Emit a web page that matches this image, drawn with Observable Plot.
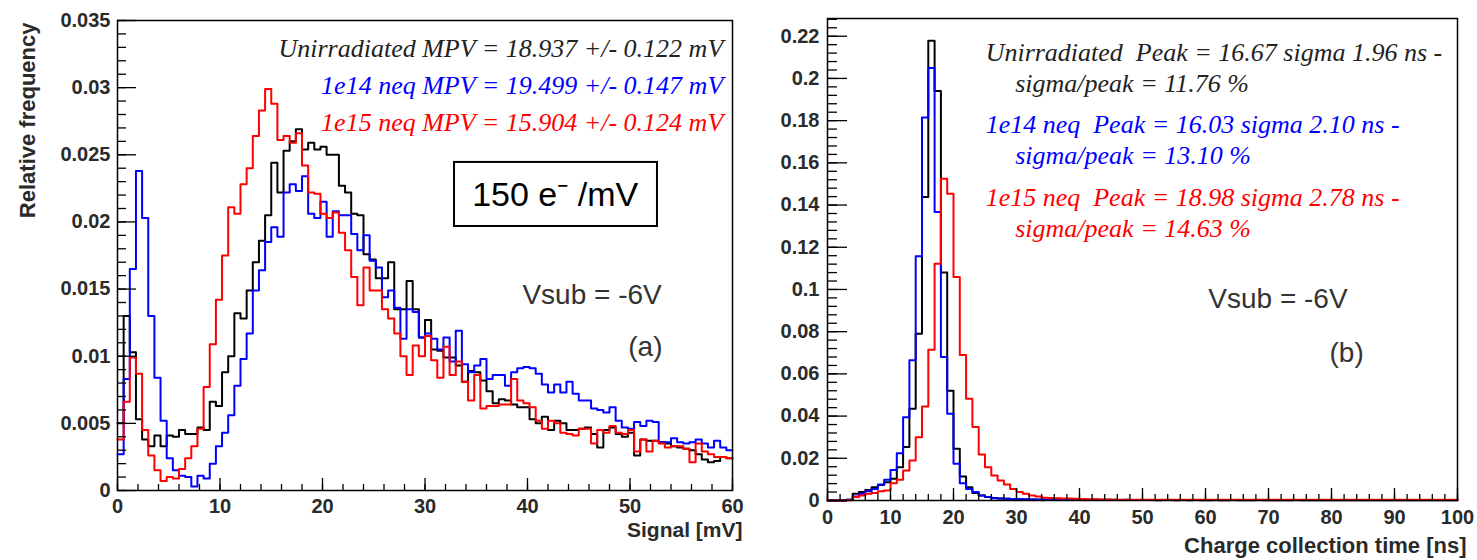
<!DOCTYPE html>
<html><head><meta charset="utf-8">
<script src="https://cdn.jsdelivr.net/npm/d3@7"></script>
<script src="https://cdn.jsdelivr.net/npm/@observablehq/plot@0.6"></script>
<style>
body{margin:0;background:#fff}
#wrap{position:relative;width:1477px;height:560px;overflow:hidden;background:#fff}
#wrap svg{position:absolute;top:0}
</style>
</head><body><div id="wrap"></div>
<script>
// ---------- data (panel a: signal, 100 bins 0..60 mV) ----------
const seriesNames = ["Unirradiated", "1e14 neq", "1e15 neq"];
const seriesColors = ["#000000", "#0000ff", "#ff0000"];

const signalUnirr = [0.0050,0.0130,0.0103,0.0053,0.0038,0.0033,0.0041,0.0033,0.0041,0.0040,
0.0045,0.0042,0.0042,0.0047,0.0045,0.0066,0.0063,0.0088,0.0100,0.0132,
0.0128,0.0149,0.0170,0.0186,0.0205,0.0244,0.0222,0.0253,0.0260,0.0269,
0.0254,0.0259,0.0254,0.0256,0.0250,0.0250,0.0227,0.0222,0.0206,0.0205,
0.0176,0.0172,0.0158,0.0158,0.0170,0.0135,0.0135,0.0156,0.0135,0.0114,
0.0127,0.0105,0.0104,0.0099,0.0099,0.0093,0.0081,0.0089,0.0088,0.0082,
0.0074,0.0065,0.0068,0.0067,0.0064,0.0062,0.0062,0.0053,0.0050,0.0055,
0.0045,0.0052,0.0050,0.0045,0.0045,0.0046,0.0047,0.0042,0.0032,0.0045,
0.0047,0.0042,0.0040,0.0043,0.0026,0.0038,0.0037,0.0037,0.0036,0.0035,
0.0033,0.0032,0.0031,0.0030,0.0027,0.0023,0.0021,0.0022,0.0025,0.0024];

const signal1e14 = [0.0027,0.0083,0.0165,0.0238,0.0203,0.0130,0.0084,0.0052,0.0024,0.0015,
0.0011,0.0010,0.0003,0.0011,0.0009,0.0020,0.0033,0.0043,0.0056,0.0078,
0.0098,0.0117,0.0149,0.0164,0.0185,0.0196,0.0189,0.0222,0.0228,0.0223,
0.0234,0.0206,0.0203,0.0215,0.0189,0.0208,0.0205,0.0205,0.0191,0.0179,
0.0190,0.0171,0.0166,0.0144,0.0149,0.0136,0.0113,0.0135,0.0133,0.0114,
0.0117,0.0113,0.0105,0.0114,0.0096,0.0119,0.0094,0.0088,0.0093,0.0098,
0.0083,0.0086,0.0086,0.0078,0.0088,0.0091,0.0092,0.0091,0.0087,0.0079,
0.0073,0.0079,0.0073,0.0081,0.0072,0.0067,0.0067,0.0061,0.0060,0.0058,
0.0062,0.0052,0.0047,0.0046,0.0051,0.0048,0.0052,0.0051,0.0036,0.0036,
0.0039,0.0036,0.0035,0.0036,0.0038,0.0035,0.0032,0.0037,0.0032,0.0030];

const signal1e15 = [0.0038,0.0066,0.0099,0.0087,0.0045,0.0026,0.0015,0.0007,0.0010,0.0009,
0.0016,0.0024,0.0033,0.0046,0.0077,0.0109,0.0142,0.0175,0.0211,0.0206,
0.0228,0.0240,0.0264,0.0283,0.0299,0.0288,0.0261,0.0264,0.0259,0.0266,
0.0242,0.0222,0.0221,0.0206,0.0203,0.0207,0.0192,0.0179,0.0159,0.0138,
0.0166,0.0149,0.0149,0.0135,0.0128,0.0117,0.0100,0.0086,0.0108,0.0100,
0.0115,0.0097,0.0084,0.0107,0.0086,0.0096,0.0081,0.0067,0.0086,0.0061,
0.0063,0.0063,0.0064,0.0064,0.0083,0.0067,0.0065,0.0062,0.0052,0.0046,
0.0052,0.0050,0.0043,0.0042,0.0041,0.0046,0.0046,0.0035,0.0045,0.0043,
0.0048,0.0043,0.0042,0.0045,0.0029,0.0038,0.0029,0.0037,0.0035,0.0032,
0.0033,0.0033,0.0031,0.0021,0.0035,0.0029,0.0027,0.0025,0.0025,0.0024];

// ---------- data (panel b: charge collection time, 100 bins 0..100 ns) ----------
const timeUnirr = [0,0,0,0.0003,0.0032,0.0040,0.0050,0.0063,0.0074,0.0087,
0.0103,0.0158,0.0253,0.0435,0.0790,0.1438,0.2178,0.1940,0.1080,0.0520,
0.0245,0.0114,0.0063,0.0035,0.0024,0.0016,0.0012,0.0010,0.0008,0.0007,
0.0006,0.0005,0.0005,0.0004,0.0004,0.0004,0.0003,0.0003,0.0003,0.0003,
0.0003,0.0002,0.0003,0.0002,0.0002,0.0003,0.0002,0.0002,0.0002,0.0002,
0.0002,0.0002,0.0001,0.0002,0.0002,0.0001,0.0002,0.0001,0.0002,0.0001,
0.0001,0.0002,0.0001,0.0001,0.0002,0.0001,0.0001,0.0001,0.0002,0.0001,
0.0001,0.0001,0.0001,0.0001,0.0002,0.0001,0.0001,0.0001,0.0001,0.0001,
0.0001,0.0001,0.0001,0.0001,0.0001,0.0001,0.0001,0.0001,0.0001,0.0001,
0.0001,0.0001,0.0001,0.0001,0.0001,0.0001,0.0001,0.0001,0.0001,0.0001];

const time1e14 = [0,0,0,0.0003,0.0019,0.0032,0.0044,0.0055,0.0076,0.0098,
0.0145,0.0224,0.0395,0.0664,0.1157,0.1815,0.2050,0.1367,0.0680,0.0411,
0.0174,0.0082,0.0055,0.0040,0.0024,0.0016,0.0011,0.0009,0.0008,0.0007,
0.0007,0.0006,0.0005,0.0005,0.0004,0.0004,0.0004,0.0003,0.0003,0.0003,
0.0003,0.0003,0.0003,0.0003,0.0003,0.0002,0.0002,0.0003,0.0002,0.0002,
0.0002,0.0002,0.0002,0.0002,0.0002,0.0002,0.0002,0.0002,0.0002,0.0002,
0.0002,0.0002,0.0002,0.0002,0.0002,0.0002,0.0002,0.0002,0.0002,0.0002,
0.0002,0.0002,0.0002,0.0002,0.0002,0.0002,0.0002,0.0002,0.0002,0.0002,
0.0002,0.0002,0.0002,0.0002,0.0002,0.0002,0.0002,0.0002,0.0002,0.0002,
0.0002,0.0002,0.0002,0.0002,0.0002,0.0002,0.0002,0.0002,0.0002,0.0002];

const time1e15 = [0,0,0,0.0001,0.0016,0.0024,0.0032,0.0035,0.0044,0.0047,
0.0082,0.0098,0.0142,0.0190,0.0300,0.0446,0.0714,0.1122,0.1525,0.1454,
0.1059,0.0690,0.0482,0.0348,0.0218,0.0158,0.0119,0.0095,0.0076,0.0055,
0.0040,0.0032,0.0024,0.0019,0.0013,0.0012,0.0011,0.0010,0.0009,0.0008,
0.0007,0.0006,0.0006,0.0005,0.0005,0.0004,0.0004,0.0004,0.0003,0.0003,
0.0003,0.0003,0.0003,0.0003,0.0003,0.0003,0.0003,0.0003,0.0003,0.0003,
0.0003,0.0003,0.0003,0.0003,0.0003,0.0003,0.0003,0.0003,0.0003,0.0003,
0.0003,0.0003,0.0003,0.0003,0.0003,0.0003,0.0003,0.0003,0.0003,0.0003,
0.0003,0.0003,0.0003,0.0003,0.0003,0.0003,0.0003,0.0003,0.0003,0.0003,
0.0003,0.0003,0.0003,0.0003,0.0003,0.0003,0.0003,0.0003,0.0003,0.0003];

// ---------- labels and ticks ----------
const signalStats = [
  "Unirradiated MPV = 18.937 +/- 0.122 mV",
  "1e14 neq MPV = 19.499 +/- 0.147 mV",
  "1e15 neq MPV = 15.904 +/- 0.124 mV"
];
const timeStatsA = [
  "Unirradiated  Peak = 16.67 sigma 1.96 ns -",
  "1e14 neq  Peak = 16.03 sigma 2.10 ns -",
  "1e15 neq  Peak = 18.98 sigma 2.78 ns -"
];
const timeStatsB = [
  "sigma/peak = 11.76 %",
  "sigma/peak = 13.10 %",
  "sigma/peak = 14.63 %"
];
const signalXTicks = [0,10,20,30,40,50,60];
const signalYTicks = [0,0.005,0.01,0.015,0.02,0.025,0.03,0.035];
const timeXTicks = [0,10,20,30,40,50,60,70,80,90,100];
const timeYTicks = [0,0.02,0.04,0.06,0.08,0.1,0.12,0.14,0.16,0.18,0.2,0.22];

// ---------- helpers ----------
function steps(lo, width, values) {
  const pts = values.map((v, i) => ({x: lo + i * width, y: v}));
  pts.push({x: lo + values.length * width, y: values[values.length - 1]});
  return pts;
}
const tickStyle = {stroke: "#000", strokeWidth: 1.3, label: null, fill: "none"};
const labelStyle = {tickSize: 0, fontSize: 20, fontWeight: "bold", fill: "#2a2a2a", label: null};
const sans = "Liberation Sans, Arial, Helvetica, sans-serif";
const serif = "Liberation Serif, Times New Roman, serif";

// ---------- panel (a) ----------
const signalSeries = [signalUnirr, signal1e14, signal1e15];
const left = Plot.plot({
  width: 760, height: 560,
  marginLeft: 117, marginRight: 28, marginTop: 20, marginBottom: 70,
  style: {fontFamily: sans, overflow: "visible", background: "transparent"},
  x: {domain: [0, 60]},
  y: {domain: [0, 0.035]},
  marks: [
    ...signalSeries.map((s, k) => Plot.line(steps(0, 0.6, s), {x: "x", y: "y", curve: "step-after", stroke: seriesColors[k], strokeWidth: 2})),
    Plot.frame({stroke: "#000", strokeWidth: 1.5}),
    Plot.axisY(d3.range(0, 0.03501, 0.001), {...tickStyle, tickSize: -9}),
    Plot.axisY(signalYTicks, {...tickStyle, tickSize: -19}),
    Plot.axisX(d3.range(0, 60.01, 2), {...tickStyle, tickSize: -6}),
    Plot.axisX(signalXTicks, {...tickStyle, tickSize: -12}),
    Plot.axisY(signalYTicks, {...labelStyle, tickPadding: 7, tickFormat: d => String(+d.toFixed(3))}),
    Plot.axisX(signalXTicks, {...labelStyle, tickPadding: 8, tickFormat: d => String(d)}),
    Plot.text(["Signal [mV]"], {frameAnchor: "bottom-right", textAnchor: "end", lineAnchor: "middle", dx: 10, dy: 40, fontSize: 21, fontWeight: "bold", fill: "#2a2a2a"}),
    Plot.text(["Relative frequency"], {frameAnchor: "top-left", rotate: -90, textAnchor: "end", lineAnchor: "middle", dx: -90, dy: 2, fontSize: 22, fontWeight: "bold", fill: "#2a2a2a"}),
    Plot.text(signalStats, {x: () => 59.1, y: (d, i) => [0.03291, 0.03016, 0.0274][i], text: d => d, textAnchor: "end", lineAnchor: "middle", fontFamily: serif, fontStyle: "italic", fontSize: 26, fill: (d, i) => ["#222", "#0000ff", "#ff0000"][i]}),
    Plot.rect([0], {x1: 32.88, x2: 52.68, y1: 0.01966, y2: 0.02443, fill: "white", stroke: "#000", strokeWidth: 2}),
    Plot.text(["150 e\u207B /mV"], {x: 42.7, y: 0.02197, lineAnchor: "middle", fontSize: 34, fill: "#000"}),
    Plot.text(["Vsub = -6V"], {x: 46.3, y: 0.01452, lineAnchor: "middle", fontSize: 28, fill: "#333"}),
    Plot.text(["(a)"], {x: 51.5, y: 0.01065, lineAnchor: "middle", fontSize: 28, fill: "#333"})
  ]
});
left.style.left = "0px";

// ---------- panel (b) ----------
const timeSeries = [timeUnirr, time1e14, time1e15];
const right = Plot.plot({
  width: 717, height: 560,
  marginLeft: 67, marginRight: 20, marginTop: 18, marginBottom: 60,
  style: {fontFamily: sans, overflow: "visible", background: "transparent"},
  x: {domain: [0, 100]},
  y: {domain: [0, 0.2284]},
  marks: [
    ...timeSeries.map((s, k) => Plot.line(steps(0, 1, s), {x: "x", y: "y", curve: "step-after", stroke: seriesColors[k], strokeWidth: 2})),
    Plot.frame({stroke: "#000", strokeWidth: 1.5}),
    Plot.axisY(d3.range(0, 0.2284, 0.004), {...tickStyle, tickSize: -10}),
    Plot.axisY(timeYTicks, {...tickStyle, tickSize: -20}),
    Plot.axisX(d3.range(0, 100.01, 2), {...tickStyle, tickSize: -6}),
    Plot.axisX(timeXTicks, {...tickStyle, tickSize: -12}),
    Plot.axisY(timeYTicks, {...labelStyle, tickPadding: 8, tickFormat: d => String(+d.toFixed(2))}),
    Plot.axisX(timeXTicks, {...labelStyle, tickPadding: 9, tickFormat: d => String(d)}),
    Plot.text(["Charge collection time [ns]"], {frameAnchor: "bottom-right", textAnchor: "end", lineAnchor: "middle", dx: 9, dy: 45, fontSize: 22, fontWeight: "bold", fill: "#2a2a2a"}),
    Plot.text(timeStatsA, {x: () => 25.1, y: (d, i) => [0.2123, 0.1782, 0.1436][i], text: d => d, textAnchor: "start", lineAnchor: "middle", fontFamily: serif, fontStyle: "italic", fontSize: 26, fill: (d, i) => ["#222", "#0000ff", "#ff0000"][i]}),
    Plot.text(timeStatsB, {x: () => 29.8, y: (d, i) => [0.1976, 0.1635, 0.1289][i], text: d => d, textAnchor: "start", lineAnchor: "middle", fontFamily: serif, fontStyle: "italic", fontSize: 26, fill: (d, i) => ["#222", "#0000ff", "#ff0000"][i]}),
    Plot.text(["Vsub = -6V"], {x: 71.5, y: 0.0957, lineAnchor: "middle", fontSize: 28, fill: "#333"}),
    Plot.text(["(b)"], {x: 82.4, y: 0.0701, lineAnchor: "middle", fontSize: 28, fill: "#333"})
  ]
});
right.style.left = "760px";

const wrap = document.getElementById("wrap");
wrap.appendChild(left);
wrap.appendChild(right);
</script></body></html>
